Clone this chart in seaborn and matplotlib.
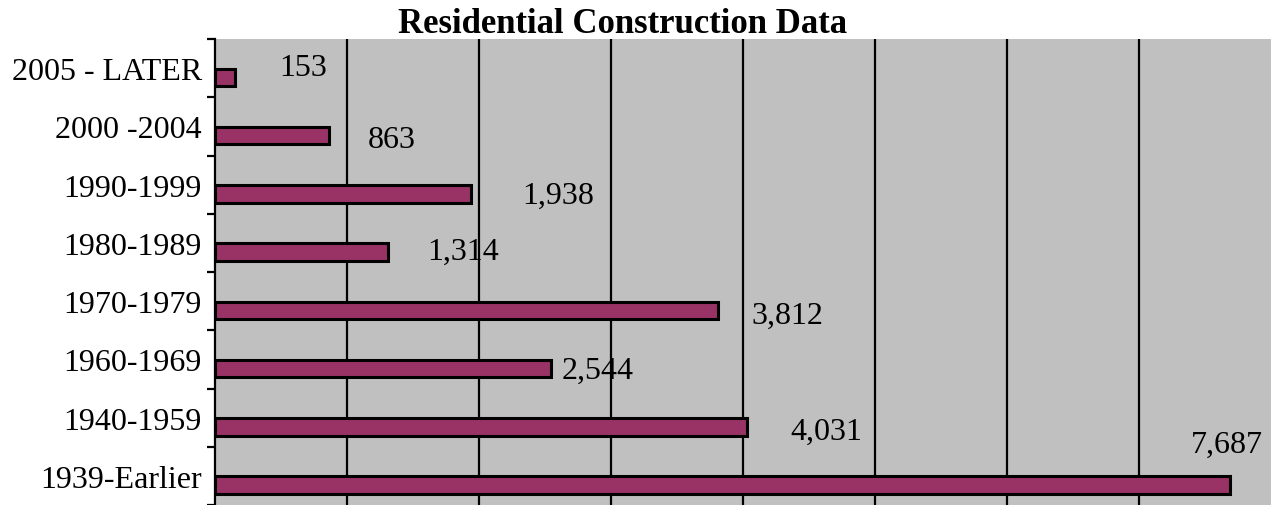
import numpy as np
import pandas as pd
import matplotlib
matplotlib.use("Agg")
import matplotlib.pyplot as plt
import seaborn as sns

periods = ["2005 - LATER", "2000 -2004", "1990-1999", "1980-1989",
           "1970-1979", "1960-1969", "1940-1959", "1939-Earlier"]
units = [153, 863, 1938, 1314, 3812, 2544, 4031, 7687]
value_labels = ["153", "863", "1,938", "1,314", "3,812", "2,544", "4,031", "7,687"]
grid_ticks = [1000, 2000, 3000, 4000, 5000, 6000, 7000]

# where excel dropped each value label, in px from the bar end (right, down)
label_dx = [68, 63, 87, 75, 69, 47, 79, -3]
label_dy = [-12, 1, -1, -3, 2, -1, 2, -43]

BAR_COLOR = "#993366"
PLOT_BG = "#C0C0C0"
PX = 0.72  # points per pixel at dpi 100
FS = 23

sns.set_theme(style="white")
plt.rcParams["font.family"] = ["Liberation Serif", "DejaVu Serif"]
plt.rcParams["text.color"] = "black"
plt.rcParams["ytick.color"] = "black"
plt.rcParams["ytick.labelcolor"] = "black"

df = pd.DataFrame({"period": periods, "units": units})

W, H = 1271, 506
fig = plt.figure(figsize=(W / 100, H / 100), dpi=100)
ax = fig.add_axes([215 / W, 0, 1 - 215 / W, 466 / H])
ax.set_facecolor(PLOT_BG)

sns.barplot(data=df, x="units", y="period", orient="h", order=periods,
            color=BAR_COLOR, saturation=1, edgecolor="black", linewidth=2.2,
            width=0.3, ax=ax, zorder=3)

# excel draws the bars in the lower part of each band
for p in ax.patches:
    p.set_y(p.get_y() + 0.16)

for i, p in enumerate(ax.patches):
    yc = p.get_y() + p.get_height() / 2
    ax.annotate(value_labels[i], xy=(units[i], yc),
                xytext=(label_dx[i] * PX, -(label_dy[i] + 10) * PX),
                textcoords="offset points", ha="center", va="baseline",
                fontsize=FS, color="black", zorder=4)

ax.set_xlim(0, 8000)
ax.set_ylim(len(periods) - 0.5, -0.5)
ax.set_xticks(grid_ticks)
ax.set_xticklabels([])
ax.tick_params(axis="x", length=0)
ax.grid(axis="x", color="black", linewidth=1.6, zorder=1)
ax.grid(axis="y", visible=False)
ax.set_axisbelow(True)

ax.set_yticks(np.arange(len(periods)))
ax.set_yticklabels(periods, fontsize=FS, color="black")
ax.set_yticks(np.arange(len(periods) + 1) - 0.5, minor=True)
ax.tick_params(axis="y", which="major", length=0, pad=13 * PX)
ax.tick_params(axis="y", which="minor", length=8 * PX, width=1.6,
               color="black", direction="out", left=True)
ax.set_xlabel("")
ax.set_ylabel("")

for side in ["top", "right", "bottom"]:
    ax.spines[side].set_visible(False)
ax.spines["left"].set_color("black")
ax.spines["left"].set_linewidth(1.6)
ax.spines["left"].set_zorder(5)

fig.text(623 / W, (H - 33) / H, "Residential Construction Data",
         ha="center", va="baseline", fontsize=25, fontweight="bold",
         color="black")

fig.savefig("out.png", dpi=100)
